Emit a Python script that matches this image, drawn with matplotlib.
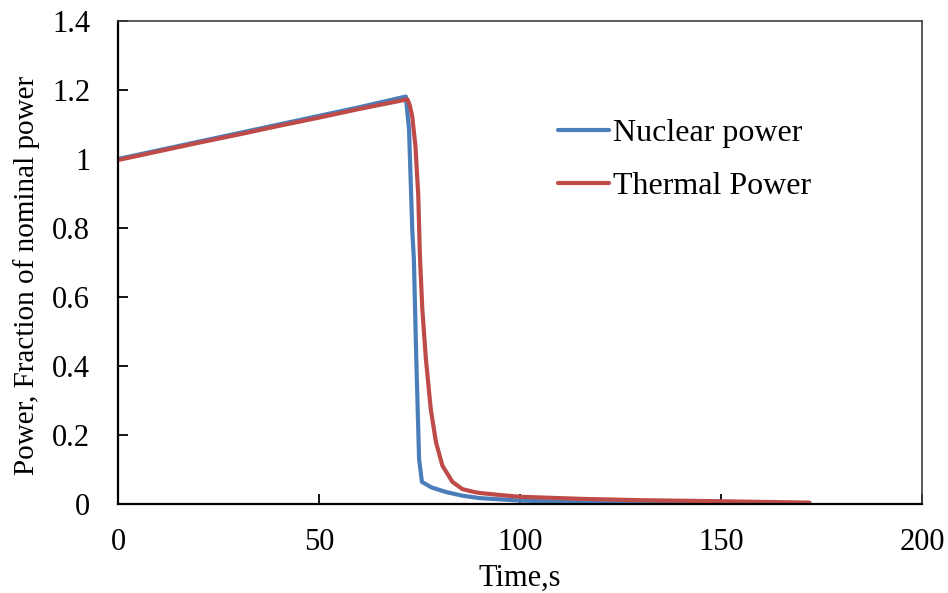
import matplotlib
matplotlib.use("Agg")
import matplotlib.pyplot as plt

plt.rcParams['font.family'] = ['Liberation Serif', 'DejaVu Serif']

# Data
nuclear_t = [0, 10, 20, 30, 40, 50, 60, 71.6, 72.4, 72.8, 73.2, 73.6, 74.2, 74.9, 75.6,
             78, 81.5, 85.7, 90, 100, 110, 120, 140, 160, 172]
nuclear_p = [1.0, 1.025, 1.05, 1.075, 1.10, 1.125, 1.15, 1.181, 1.085, 0.94, 0.795, 0.71,
             0.42, 0.13, 0.064, 0.048, 0.035, 0.024, 0.017, 0.01, 0.007, 0.005, 0.003,
             0.002, 0.001]

thermal_t = [0, 10, 20, 30, 40, 50, 60, 72.0, 72.6, 73.2, 74.0, 74.7, 75.1, 75.7, 76.6,
             77.8, 79.1, 80.7, 83.2, 85.7, 88.5, 90, 95, 100, 115, 130, 150, 172]
thermal_p = [0.997, 1.022, 1.047, 1.071, 1.096, 1.12, 1.145, 1.173, 1.155, 1.123, 1.036,
             0.892, 0.72, 0.564, 0.419, 0.275, 0.179, 0.111, 0.064, 0.043, 0.035, 0.032,
             0.026, 0.021, 0.015, 0.011, 0.008, 0.004]

xticks = [0, 50, 100, 150, 200]
yticks = [0, 0.2, 0.4, 0.6, 0.8, 1.0, 1.2, 1.4]
ytick_labels = ['0', '0.2', '0.4', '0.6', '0.8', '1', '1.2', '1.4']

blue = '#4A7EBB'
red = '#BE4B48'

fig = plt.figure(figsize=(9.48, 5.93), dpi=100)
ax = fig.add_axes([118/948, 1-504/593, (922-118)/948, (504-21)/593])

ax.plot(nuclear_t, nuclear_p, color=blue, lw=3.0, label='Nuclear power',
        solid_capstyle='round', solid_joinstyle='round')
ax.plot(thermal_t, thermal_p, color=red, lw=3.0, label='Thermal Power',
        solid_capstyle='round', solid_joinstyle='round')

ax.set_xlim(0, 200)
ax.set_ylim(0, 1.4)
ax.set_xticks(xticks)
ax.set_xticklabels([str(v) for v in xticks])
ax.set_yticks(yticks)
ax.set_yticklabels(ytick_labels)

ax.tick_params(axis='both', direction='in', length=7, width=1.3, labelsize=22,
               top=False, right=False)
ax.tick_params(axis='y', pad=20)
ax.tick_params(axis='x', pad=17)

for s in ['left', 'bottom']:
    ax.spines[s].set_linewidth(1.6)
    ax.spines[s].set_color('black')
for s in ['top', 'right']:
    ax.spines[s].set_linewidth(1.2)
    ax.spines[s].set_color('#404040')

ax.set_xlabel('Time,s', fontsize=22, labelpad=5)
ax.set_ylabel('Power, Fraction of nominal power', fontsize=21)
ax.yaxis.set_label_coords(-0.097, 0.474)

leg = ax.legend(loc='center left', bbox_to_anchor=(558/948, 1-160/593),
                bbox_transform=fig.transFigure, frameon=False, fontsize=23,
                handlelength=1.6, handletextpad=0.12, labelspacing=0.72,
                borderpad=0, borderaxespad=0)

fig.savefig('out.png', dpi=100)
